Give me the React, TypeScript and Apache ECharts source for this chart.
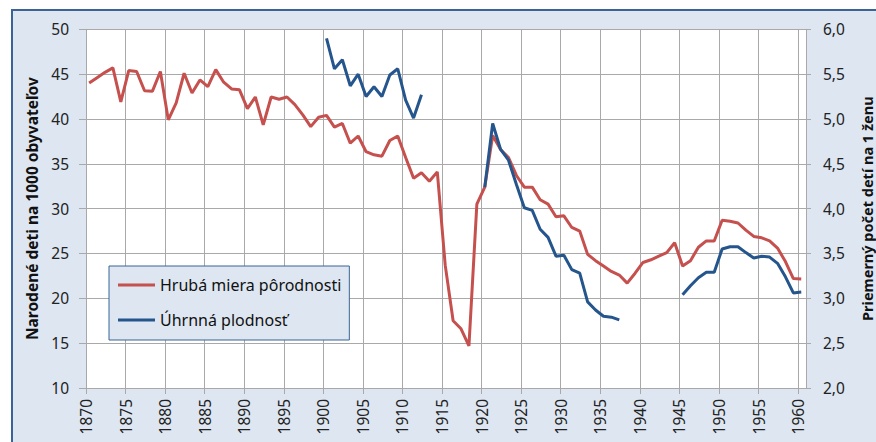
import React, { useEffect, useRef } from "react";
import * as echarts from "echarts";

// Crude birth rate (per 1000 inhabitants), 1870 ... 1960
const birthRateStartYear = 1870;
const birthRate: number[] = [
  44.0, 44.6, 45.2, 45.7, 41.9, 45.4, 45.3, 43.15, 43.1, 45.3,
  39.9, 41.8, 45.1, 42.9, 44.35, 43.6, 45.5, 44.1, 43.35, 43.25,
  41.15, 42.45, 39.35, 42.45, 42.2, 42.45, 41.6, 40.45, 39.15, 40.2,
  40.4, 39.1, 39.5, 37.3, 38.1, 36.35, 36.0, 35.85, 37.6, 38.1,
  35.7, 33.4, 34.0, 33.05, 34.1, 23.7, 17.5, 16.6, 14.7, 30.5,
  32.4, 38.15, 36.6, 35.7, 33.7, 32.4, 32.4, 31.0, 30.5, 29.1,
  29.2, 27.9, 27.5, 24.9, 24.2, 23.6, 23.0, 22.6, 21.7, 22.8,
  24.0, 24.3, 24.7, 25.1, 26.2, 23.6, 24.2, 25.7, 26.4, 26.4,
  28.7, 28.6, 28.4, 27.6, 26.9, 26.75, 26.4, 25.6, 24.1, 22.2,
  22.15,
];

// Total fertility rate (children per woman), three observed periods
const fertility1900: number[] = [5.9, 5.56, 5.66, 5.37, 5.5, 5.25, 5.36, 5.25, 5.49, 5.56, 5.21, 5.01, 5.27];
const fertility1920: number[] = [4.24, 4.95, 4.66, 4.54, 4.27, 4.01, 3.98, 3.77, 3.68, 3.47, 3.48, 3.32, 3.28, 2.96, 2.87, 2.8, 2.79, 2.76];
const fertility1945: number[] = [3.04, 3.14, 3.23, 3.29, 3.29, 3.55, 3.575, 3.575, 3.51, 3.45, 3.47, 3.46, 3.39, 3.24, 3.06, 3.07];
const fertilitySegments: { start: number; values: number[] }[] = [
  { start: 1900, values: fertility1900 },
  { start: 1920, values: fertility1920 },
  { start: 1945, values: fertility1945 },
];

const xMin = 1870;
const xMax = 1961;
const leftTicks = { min: 10, max: 50, interval: 5 };
const rightTicks = { min: 2, max: 6, interval: 0.5 };

const seriesNames = ["Hrubá miera pôrodnosti", "Úhrnná plodnosť"];
const leftAxisName = "Narodené deti na 1000 obyvateľov";
const rightAxisName = "Priemerný počet detí na 1 ženu";

const RED = "#c5504d";
const BLUE = "#24558c";
const FONT = "'Noto Sans', 'DejaVu Sans', sans-serif";
// points are drawn within their year (mid-year position)
const YEAR_POS = 0.4;

export default function App() {
  const ref = useRef<HTMLDivElement>(null);

  useEffect(() => {
    document.body.style.margin = "0";
    if (!ref.current) return;
    const chart = echarts.init(ref.current, undefined, { renderer: "svg" });

    const redData = birthRate.map((v, i) => [birthRateStartYear + i + YEAR_POS, v]);
    const blueData: (number | null)[][] = [];
    fertilitySegments.forEach((seg, si) => {
      if (si > 0) blueData.push([seg.start - 1 + YEAR_POS, null]);
      seg.values.forEach((v, i) => blueData.push([seg.start + i + YEAR_POS, v]));
    });

    const gridColor = "#a9a9a9";

    chart.setOption({
      animation: false,
      textStyle: { fontFamily: FONT },
      graphic: [
        {
          type: "rect",
          shape: { x: 12, y: 10, width: 900, height: 480 },
          style: { fill: "#dde6f1", stroke: "#3b6396", lineWidth: 2 },
          z: -10,
          silent: true,
        },
      ],
      grid: {
        left: 86,
        top: 29.3,
        width: 720,
        height: 358.7,
        show: true,
        backgroundColor: "#ffffff",
        borderWidth: 0,
        containLabel: false,
        outerBoundsMode: "none",
      },
      legend: {
        orient: "vertical",
        left: 109,
        top: 266,
        icon: "rect",
        itemWidth: 37,
        itemHeight: 3,
        itemGap: 13,
        padding: [8, 8, 9, 9],
        backgroundColor: "#dde6f1",
        borderColor: "#3b6396",
        borderWidth: 1,
        borderRadius: 0,
        textStyle: { fontFamily: FONT, fontSize: 16, color: "#111", lineHeight: 22 },
        data: seriesNames,
      },
      xAxis: {
        type: "value",
        min: xMin,
        max: xMax,
        interval: 5,
        axisLine: { show: true, onZero: false, lineStyle: { color: gridColor, width: 1 } },
        axisTick: { show: true, length: 6, inside: false, lineStyle: { color: gridColor } },
        splitLine: { show: true, lineStyle: { color: gridColor, width: 1 } },
        axisLabel: {
          rotate: 90,
          margin: 11,
          fontSize: 15.5,
          fontFamily: FONT,
          color: "#222",
          showMaxLabel: false,
          formatter: (v: number) => (v % 5 === 0 ? String(v) : ""),
        },
      },
      yAxis: [
        {
          type: "value",
          position: "left",
          min: leftTicks.min,
          max: leftTicks.max,
          interval: leftTicks.interval,
          name: leftAxisName,
          nameLocation: "middle",
          nameRotate: 90,
          nameGap: 46,
          nameTextStyle: { fontFamily: FONT, fontSize: 15.5, fontWeight: "bold", color: "#111" },
          axisLine: { show: true, lineStyle: { color: gridColor } },
          axisTick: { show: true, length: 7, lineStyle: { color: gridColor } },
          splitLine: { show: true, lineStyle: { color: gridColor, width: 1 } },
          axisLabel: { margin: 17, fontSize: 15.5, fontFamily: FONT, color: "#222" },
        },
        {
          type: "value",
          position: "right",
          min: rightTicks.min,
          max: rightTicks.max,
          interval: rightTicks.interval,
          name: rightAxisName,
          nameLocation: "middle",
          nameRotate: 90,
          nameGap: 53,
          nameTextStyle: { fontFamily: FONT, fontSize: 14.5, fontWeight: "bold", color: "#111" },
          axisLine: { show: true, lineStyle: { color: gridColor } },
          axisTick: { show: true, length: 5, lineStyle: { color: gridColor } },
          splitLine: { show: false },
          axisLabel: {
            margin: 17,
            fontSize: 15.5,
            fontFamily: FONT,
            color: "#222",
            formatter: (v: number) => v.toFixed(1).replace(".", ","),
          },
        },
      ],
      series: [
        {
          name: seriesNames[0],
          type: "line",
          yAxisIndex: 0,
          data: redData,
          symbol: "none",
          showSymbol: false,
          lineStyle: { color: RED, width: 3 },
          itemStyle: { color: RED },
          z: 2,
        },
        {
          name: seriesNames[1],
          type: "line",
          yAxisIndex: 1,
          data: blueData,
          symbol: "none",
          showSymbol: false,
          connectNulls: false,
          lineStyle: { color: BLUE, width: 3 },
          itemStyle: { color: BLUE },
          z: 3,
        },
      ],
    });

    return () => chart.dispose();
  }, []);

  return <div ref={ref} style={{ width: 876, height: 442 }} />;
}
